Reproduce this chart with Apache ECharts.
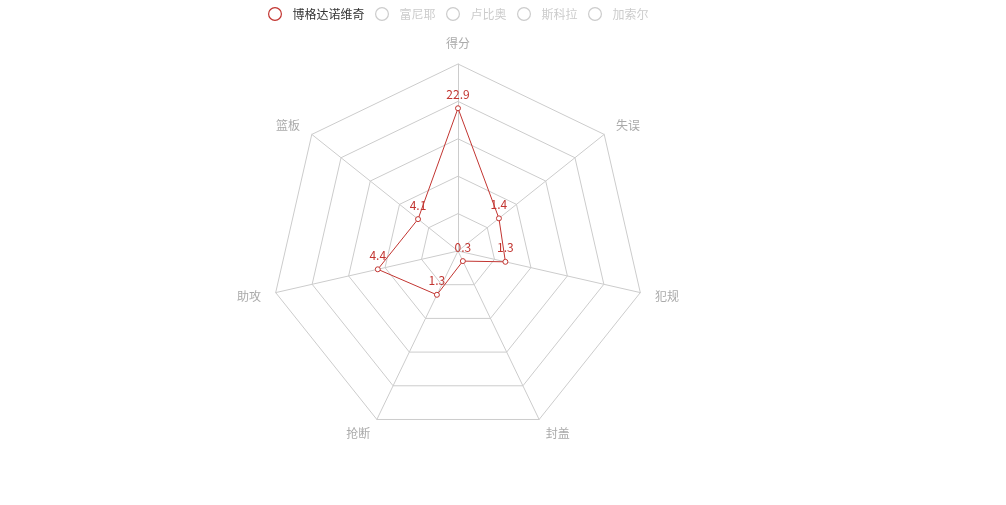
<!DOCTYPE html>
<html>
<head>
<meta charset="utf-8">
<script src="https://cdn.jsdelivr.net/npm/echarts@6/dist/echarts.min.js"></script>
<style>
html,body{margin:0;padding:0;background:#fff;}
#main{width:1006px;height:505px;}
</style>
</head>
<body>
<div id="main"></div>
<script>
// Indicators listed in ECharts' counter-clockwise order (top first)
const indicatorNames = ['得分', '篮板', '助攻', '抢断', '封盖', '犯规', '失误'];
const indicatorMax = [30, 15, 10, 5, 5, 5, 5];
const playerNames = ['博格达诺维奇', '富尼耶', '卢比奥', '斯科拉', '加索尔'];
const bogdanovic = [22.9, 4.1, 4.4, 1.3, 0.3, 1.3, 1.4];
const fournier = [19.4, 3.3, 2.5, 0.6, 0.4, 2.4, 2.1];
const rubio = [16.0, 4.8, 6.0, 1.5, 0.1, 2.6, 2.3];
const scola = [17.9, 8.0, 1.0, 1.4, 0.3, 2.6, 1.6];
const gasol = [9.3, 6.5, 4.0, 0.9, 1.1, 2.9, 1.5];
const hiddenPlayers = ['富尼耶', '卢比奥', '斯科拉', '加索尔'];

const allData = [bogdanovic, fournier, rubio, scola, gasol];
const colors = ['#c23531', '#2f4554', '#61a0a8', '#d48265', '#91c7ae'];
const selected = {};
playerNames.forEach(n => { selected[n] = hiddenPlayers.indexOf(n) < 0; });

const ringIcon = 'path://M0,7A7,7 0 1,0 14,7A7,7 0 1,0 0,7ZM1.2,7A5.8,5.8 0 1,1 12.8,7A5.8,5.8 0 1,1 1.2,7Z';

const chart = echarts.init(document.getElementById('main'));
chart.setOption({
  animation: false,
  color: colors,
  textStyle: { fontFamily: '"Noto Sans CJK SC", sans-serif' },
  legend: {
    data: playerNames.map((n, i) => ({ name: n, itemStyle: { color: colors[i], borderWidth: 0 } })),
    selected: selected,
    left: 263,
    top: 2,
    icon: ringIcon,
    itemWidth: 25,
    itemHeight: 14,
    itemGap: 10.5,
    inactiveColor: '#ccc',
    inactiveBorderWidth: 0,
    textStyle: { color: '#333', fontSize: 12 }
  },
  radar: {
    center: [458, 251],
    radius: 187,
    splitNumber: 5,
    shape: 'polygon',
    indicator: indicatorNames.map((n, i) => ({ name: n, max: indicatorMax[i] })),
    axisName: { color: '#aaa', fontSize: 12 },
    nameGap: 15,
    splitArea: { show: false },
    splitLine: { lineStyle: { color: '#ccc', width: 1 } },
    axisLine: { lineStyle: { color: '#ccc', width: 1 } }
  },
  series: playerNames.map((name, i) => ({
    name: name,
    type: 'radar',
    symbol: 'circle',
    symbolSize: 5,
    lineStyle: { width: 1, color: colors[i] },
    itemStyle: { color: '#fff', borderColor: colors[i], borderWidth: 1 },
    label: { show: true, position: 'top', fontSize: 12, color: colors[i] },
    data: [{ name: name, value: allData[i] }]
  }))
});
</script>
</body>
</html>
